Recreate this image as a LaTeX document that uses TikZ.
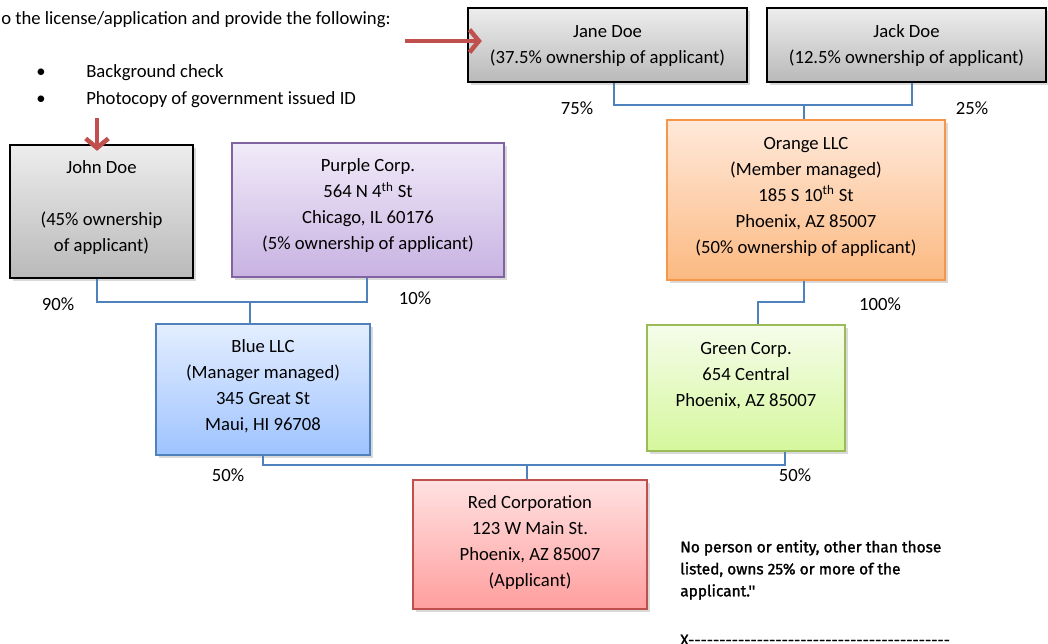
\documentclass[tikz,border=0pt]{standalone}
\usepackage{fontspec}
\setmainfont{Carlito}
\newfontfamily\dinfont{Fira Sans}[FakeBold=1.4]
\usetikzlibrary{shadows,arrows.meta}
\definecolor{connblue}{HTML}{4F81BD}
\definecolor{arrowred}{HTML}{C0504D}
\definecolor{gtop}{HTML}{EDEDED}\definecolor{gbot}{HTML}{B9B9B9}
\definecolor{pdraw}{HTML}{8064A2}\definecolor{ptop}{HTML}{F1EBF9}\definecolor{pbot}{HTML}{C8B2E2}
\definecolor{odraw}{HTML}{F79646}\definecolor{otop}{HTML}{FFE9DA}\definecolor{obot}{HTML}{FBB981}
\definecolor{bdraw}{HTML}{4F81BD}\definecolor{btop}{HTML}{E4EEFF}\definecolor{bbot}{HTML}{9EC3FF}
\definecolor{grdraw}{HTML}{9BBB59}\definecolor{grtop}{HTML}{F5FDEA}\definecolor{grbot}{HTML}{D5F79C}
\definecolor{rdraw}{HTML}{C0504D}\definecolor{rtop}{HTML}{FFE1E1}\definecolor{rbot}{HTML}{FF9E9E}
\begin{document}
\begin{tikzpicture}[x=0.75pt,y=-0.75pt,
  every node/.style={font=\fontsize{14}{19.5}\selectfont, inner sep=0pt},
  box/.style={line width=1.3pt, drop shadow={opacity=0.3,shadow xshift=2pt,shadow yshift=-2.5pt}},
  graybox/.style={box, draw=black, top color=gtop, bottom color=gbot},
  purplebox/.style={box, draw=pdraw, top color=ptop, bottom color=pbot},
  orangebox/.style={box, draw=odraw, top color=otop, bottom color=obot},
  bluebox/.style={box, draw=bdraw, top color=btop, bottom color=bbot},
  greenbox/.style={box, draw=grdraw, top color=grtop, bottom color=grbot},
  redbox/.style={box, draw=rdraw, top color=rtop, bottom color=rbot},
  txt/.style={align=center, text=black},
  conn/.style={draw=connblue, line width=1.1pt},
  redarrow/.style={draw=arrowred, line width=3.4pt, -{Straight Barb[length=7pt,width=17pt]}},
  note/.style={font=\dinfont\fontsize{11.6}{16.5}\selectfont, align=left}
]
\useasboundingbox (0,0) rectangle (1048,643);

% boxes
\node[graybox, minimum width=209.25pt, minimum height=55.5pt] (jane) at (607.5,45) {};
\node[graybox, minimum width=209.25pt, minimum height=55.5pt] (jack) at (906.5,45) {};
\node[orangebox, minimum width=208.5pt, minimum height=120pt] (orange) at (806,200) {};
\node[greenbox, minimum width=148.5pt, minimum height=94.5pt] (green) at (746,388) {};
\node[bluebox, minimum width=160.5pt, minimum height=98.25pt] (blue) at (263,389.5) {};
\node[graybox, minimum width=137.25pt, minimum height=99.75pt] (john) at (101.5,211.5) {};
\node[purplebox, minimum width=204pt, minimum height=100.5pt] (purple) at (368,210) {};
\node[redbox, minimum width=175.5pt, minimum height=96.75pt] (red) at (530,544.5) {};

% box texts
\node[txt] (janet) at (607.5,46) {Jane Doe\\(37.5\% ownership of applicant)};
\node[txt] (jackt) at (906.5,46) {Jack Doe\\(12.5\% ownership of applicant)};
\node[txt] (oranget) at (806,197) {Orange LLC\\(Member managed)\\185 S 10\textsuperscript{th} St\\Phoenix, AZ 85007\\(50\% ownership of applicant)};
\node[txt] (greent) at (746,376) {Green Corp.\\654 Central\\Phoenix, AZ 85007};
\node[txt] (bluet) at (263,386.5) {Blue LLC\\(Manager managed)\\345 Great St\\Maui, HI 96708};
\node[txt] (johnt) at (101.5,208) {John Doe\\\mbox{}\\(45\% ownership\\of applicant)};
\node[txt] (purplet) at (368,206) {Purple Corp.\\564 N 4\textsuperscript{th} St\\Chicago, IL 60176\\(5\% ownership of applicant)};
\node[txt] (redt) at (530,542.5) {Red Corporation\\123 W Main St.\\Phoenix, AZ 85007\\(Applicant)};

% percentages
\node (p75) at (577,108) {75\%};
\node (p25) at (972,108) {25\%};
\node (p100) at (880,304) {100\%};
\node (p90) at (58,304) {90\%};
\node (p10) at (415,298) {10\%};
\node (p50a) at (228,475) {50\%};
\node (p50b) at (795,475) {50\%};

% connectors
\coordinate (xJane) at (614,0);
\coordinate (xJack) at (912,0);
\coordinate (jO) at (804,105);
\draw[conn] (jane.south -| xJane) |- (jO) -| (jack.south -| xJack);
\draw[conn] (jO) -- (orange.north -| jO);
\coordinate (jG) at (804,302);
\coordinate (xG) at (758,0);
\draw[conn] (orange.south -| jG) -- (jG) -| (green.north -| xG);
\coordinate (xJohn) at (97,0);
\coordinate (xPur) at (367,0);
\coordinate (jB) at (250,302);
\draw[conn] (john.south -| xJohn) |- (jB) -| (purple.south -| xPur);
\draw[conn] (jB) -- (blue.north -| jB);
\coordinate (xBlue) at (263,0);
\coordinate (xGreen) at (785,0);
\coordinate (jR) at (527,465);
\draw[conn] (blue.south -| xBlue) |- (jR) -| (green.south -| xGreen);
\draw[conn] (jR) -- (red.north -| jR);

% red arrows
\coordinate (a1s) at (405,41);
\draw[redarrow] (a1s) -- ([xshift=11pt]a1s -| jane.west);
\coordinate (a2s) at (97,118);
\draw[redarrow] (a2s) -- ([yshift=-5pt]a2s |- john.north);

% top text
\node[anchor=west] (intro) at (1,20) {o the license/application and provide the following:};
\node (b1) at (41,73) {•};
\node[anchor=west] (b1t) at (86,73) {Background check};
\node (b2) at (41,100) {•};
\node[anchor=west] (b2t) at (86,100) {Photocopy of government issued ID};

% note
\node[note, anchor=north west] (notet) at (680,540) {No person or entity, other than those\\listed, owns 25\% or more of the\\applicant.''};
\node[note, anchor=west] (sig) at (680,640) {X------------------------------------------};
\end{tikzpicture}
\end{document}
